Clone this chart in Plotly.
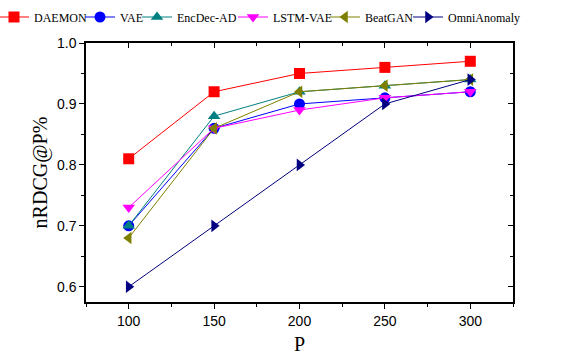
import plotly.graph_objects as go

P = [100, 150, 200, 250, 300]
names = ["DAEMON", "VAE", "EncDec-AD", "LSTM-VAE", "BeatGAN", "OmniAnomaly"]
daemon = [0.81, 0.92, 0.95, 0.96, 0.97]
vae = [0.70, 0.86, 0.90, 0.91, 0.92]
encdec = [0.70, 0.88, 0.92, 0.93, 0.94]
lstmvae = [0.73, 0.86, 0.89, 0.91, 0.92]
beatgan = [0.68, 0.86, 0.92, 0.93, 0.94]
omni = [0.60, 0.70, 0.80, 0.90, 0.94]

series = [daemon, vae, encdec, lstmvae, beatgan, omni]
colors = ["#FF0000", "#0000FF", "#008080", "#FF00FF", "#808000", "#000080"]
symbols = ["square", "circle", "triangle-up", "triangle-down", "triangle-left", "triangle-right"]
# legend entry marker centres (px from left of the figure)
legend_px = [14, 100, 157, 253, 345, 428]

W, H = 573, 355
ML, MR, MT, MB = 86, 60, 43, 53
PW = W - ML - MR
legfont = dict(family="Liberation Serif, Times New Roman", size=12, color="black")

fig = go.Figure()
layout_legends = {}
for i, (n, s, c, m) in enumerate(zip(names, series, colors, symbols)):
    key = "legend" if i == 0 else f"legend{i+1}"
    fig.add_trace(go.Scatter(x=P, y=s, name=n, mode="lines+markers", legend=key,
                             line=dict(color=c, width=1),
                             marker=dict(symbol=m, size=11, color=c)))
    layout_legends[key] = dict(orientation="h", xref="paper", yref="container",
                               x=(legend_px[i] - 20 - ML) / PW, xanchor="left",
                               y=1 - 17 / H, yanchor="middle",
                               font=legfont, bgcolor="rgba(0,0,0,0)", borderwidth=0)

# invisible trace to activate mirror axes
fig.add_trace(go.Scatter(x=[None], y=[None], xaxis="x2", yaxis="y2", showlegend=False))

tickfont = dict(family="Liberation Sans, Arial", size=14, color="black")
titlefont = dict(family="Liberation Serif, Times New Roman", size=20, color="black")
fig.update_layout(
    width=W, height=H,
    margin=dict(l=ML, r=MR, t=MT, b=MB, autoexpand=False),
    plot_bgcolor="white", paper_bgcolor="white",
    showlegend=True,
    xaxis=dict(range=[75, 325], tickvals=P, ticks="outside", ticklen=5, tickwidth=1,
               tickcolor="black", showline=True, linecolor="black", linewidth=1.5,
               showgrid=False, zeroline=False, tickfont=tickfont,
               minor=dict(ticks="outside", ticklen=3, tickcolor="black", dtick=25, tick0=75),
               title=dict(text="P", font=titlefont, standoff=13)),
    yaxis=dict(range=[0.575, 1.0], tickvals=[0.6, 0.7, 0.8, 0.9, 1.0], tickformat=".1f",
               ticks="outside", ticklen=5, tickwidth=1, tickcolor="black",
               showline=True, linecolor="black", linewidth=1.5, showgrid=False, zeroline=False,
               tickfont=tickfont,
               minor=dict(ticks="outside", ticklen=3, tickcolor="black", dtick=0.05, tick0=0.55),
               title=dict(text="nRDCG@P%", font=titlefont, standoff=4)),
    xaxis2=dict(overlaying="x", side="top", matches="x", range=[75, 325], tickvals=P,
                ticks="inside", ticklen=5, tickcolor="black", showticklabels=False,
                showline=True, linecolor="black", linewidth=1.5, showgrid=False, zeroline=False,
                minor=dict(ticks="inside", ticklen=3, tickcolor="black", dtick=25, tick0=75)),
    yaxis2=dict(overlaying="y", side="right", range=[0.575, 1.0], tickvals=[0.6, 0.7, 0.8, 0.9, 1.0],
                ticks="inside", ticklen=5, tickcolor="black", showticklabels=False,
                showline=True, linecolor="black", linewidth=1.5, showgrid=False, zeroline=False,
                minor=dict(ticks="inside", ticklen=3, tickcolor="black", dtick=0.05, tick0=0.55)),
    **layout_legends,
)
fig.write_html("out.html", post_script="document.body.style.margin='0';",
               config={"displayModeBar": False})
